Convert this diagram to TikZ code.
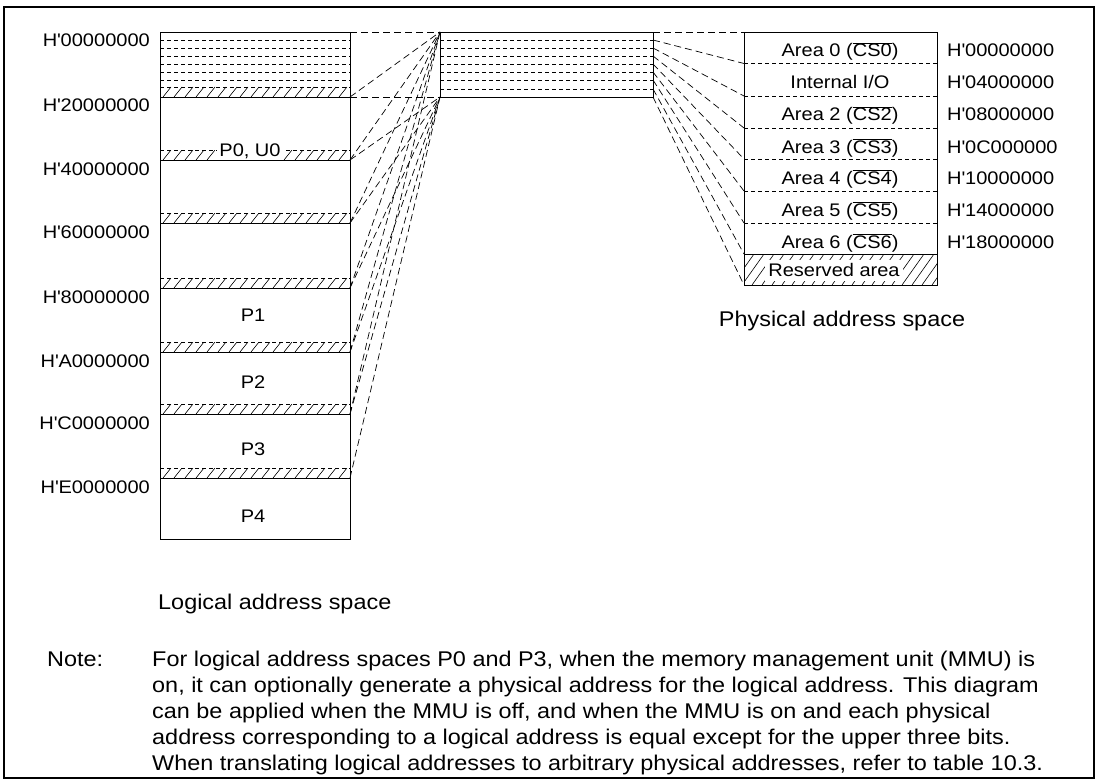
\documentclass[tikz,border=0pt]{standalone}
\usepackage{fontspec}
\setmainfont{Liberation Sans}[FakeStretch=1.1]
\newcommand{\hq}{H\textquotesingle}
\begin{document}
\begin{tikzpicture}[x=1pt,y=-1pt,
  box/.style={draw=black,line width=0.9pt},
  conn/.style={draw=black,line width=0.7pt,dash pattern=on 7pt off 4pt},
  sub/.style={draw=black,line width=0.6pt,dash pattern=on 4pt off 3pt},
  hatchln/.style={draw=black,line width=0.6pt},
  lbl/.style={font=\fontsize{18.2}{22}\selectfont, inner sep=0pt},
  big/.style={font=\fontsize{21.3}{26}\selectfont, inner sep=0pt},
]
\useasboundingbox (0,0) rectangle (1102,781);
\draw[line width=2pt] (4,7) rectangle (1094,778);

% ---------- left box (logical address space)
\foreach \n/\y in {0/32,1/97,2/160,3/223,4/288,5/352,6/414,7/478,8/539}{
  \coordinate (la\n) at (160,\y);
  \coordinate (lb\n) at (350,\y);
}
\foreach \y in {40,48,56,64,72,80}{\draw[sub] (160,\y) -- (350,\y);}
\foreach \y in {97,160,223,288,352,414,478}{
  \begin{scope}
    \clip (160,\y-10) rectangle (350,\y);
    \foreach \x in {152,163,...,352}{\draw[hatchln] (\x,\y) -- (\x+8,\y-10);}
  \end{scope}
  \draw[sub] (160,\y-10) -- (350,\y-10);
}
\node[lbl,fill=white,inner xsep=2pt,inner ysep=0.5pt,anchor=base] (p0) at (250,157) {P0, U0};
\node[lbl,anchor=base] (p1) at (253,321) {P1};
\node[lbl,anchor=base] (p2) at (253,388) {P2};
\node[lbl,anchor=base] (p3) at (253,455) {P3};
\node[lbl,anchor=base] (p4) at (253,522) {P4};
\draw[box] (la0) rectangle (lb8);
\foreach \n in {1,...,7}{\draw[box] (la\n) -- (lb\n);}

\foreach \t/\y in {00000000/47,20000000/112,40000000/175,60000000/238,80000000/303,A0000000/367,C0000000/429,E0000000/493}{
  \node[lbl,anchor=base east] at (150,\y) {\hq\t};
}
\node[big,anchor=base west] (lsp) at (158,609) {Logical address space};

% ---------- middle box
\foreach \n/\y in {0/32,1/40,2/48,3/56,4/64,5/72,6/80,7/89,8/97}{
  \coordinate (ml\n) at (440,\y);
  \coordinate (m\n) at (653,\y);
}
\foreach \n in {1,...,7}{\draw[sub] (ml\n) -- (m\n);}
\draw[box] (ml0) rectangle (m8);

% ---------- right box (physical address space)
\foreach \n/\y in {0/32,1/63.5,2/96,3/128,4/159,5/191,6/223,7/254,8/285}{
  \coordinate (r\n) at (744,\y);
  \coordinate (rr\n) at (937,\y);
}
\begin{scope}
  \clip (r7) rectangle (rr8);
  \foreach \x in {722,732,...,942}{\draw[hatchln] (\x,285) -- (\x+22,254);}
\end{scope}
\node[lbl,fill=white,inner xsep=3pt,minimum height=21pt] (res) at (834,270) {Reserved area};
\foreach \n in {1,...,6}{\draw[sub] (r\n) -- (rr\n);}
\draw[box] (r7) -- (rr7);
\draw[box] (r0) rectangle (rr8);

\node[lbl,anchor=base] (a0) at (840,57) {Area 0 ($\overline{\mbox{CS0}}$)};
\node[lbl,anchor=base] (a1) at (840,89) {Internal I/O};
\node[lbl,anchor=base] (a2) at (840,121) {Area 2 ($\overline{\mbox{CS2}}$)};
\node[lbl,anchor=base] (a3) at (840,153) {Area 3 ($\overline{\mbox{CS3}}$)};
\node[lbl,anchor=base] (a4) at (840,184) {Area 4 ($\overline{\mbox{CS4}}$)};
\node[lbl,anchor=base] (a5) at (840,216) {Area 5 ($\overline{\mbox{CS5}}$)};
\node[lbl,anchor=base] (a6) at (840,248) {Area 6 ($\overline{\mbox{CS6}}$)};
\foreach \t/\y in {00000000/57,04000000/89,08000000/121,0C000000/153,10000000/184,14000000/216,18000000/248}{
  \node[lbl,anchor=base west] at (947,\y) {\hq\t};
}
\node[big,anchor=base] (psp) at (842,326) {Physical address space};

% ---------- connectors left fan
\draw[conn] (lb0) -- (ml0);
\draw[conn] (lb1) -- (ml8);
\foreach \k/\kk in {1/2,2/3,3/4,4/5,5/6,6/7}{
  \draw[conn] (lb\k) -- (ml0);
  \draw[conn] (lb\kk) -- (ml8);
}
% ---------- connectors right fan
\foreach \n in {0,...,8}{\draw[conn] (m\n) -- (r\n);}

% ---------- note
\node[big,anchor=base west] (nt) at (47,666) {Note:};
\node[big,anchor=base west] (n1) at (152,666) {For logical address spaces P0 and P3, when the memory management unit (MMU) is};
\node[big,anchor=base west] (n2) at (152,692) {on, it can optionally generate a physical address for the logical address. This diagram};
\node[big,anchor=base west] (n3) at (152,718) {can be applied when the MMU is off, and when the MMU is on and each physical};
\node[big,anchor=base west] (n4) at (152,744) {address corresponding to a logical address is equal except for the upper three bits.};
\node[big,anchor=base west] (n5) at (152,770) {When translating logical addresses to arbitrary physical addresses, refer to table 10.3.};
\end{tikzpicture}
\end{document}
